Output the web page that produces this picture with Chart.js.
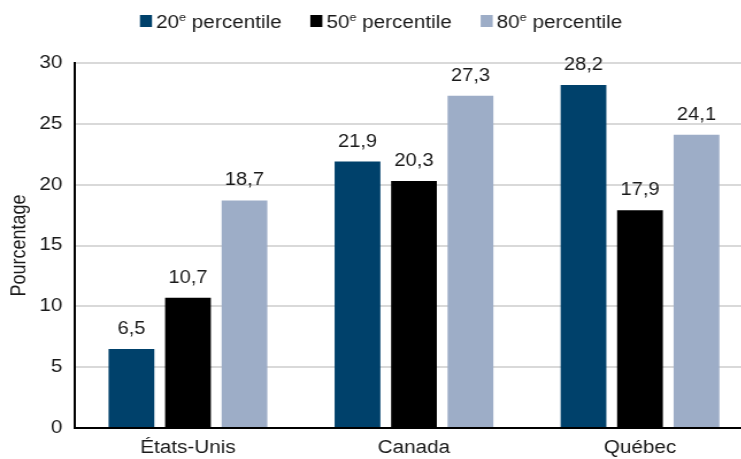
<!DOCTYPE html>
<html>
<head>
<meta charset="utf-8">
<script src="https://cdn.jsdelivr.net/npm/chart.js@4"></script>
<style>
  html, body { margin: 0; padding: 0; background: #fff; overflow: hidden; }
  #wrap { width: 741px; height: 459px; overflow: hidden; }
  /* the figure is drawn narrow and widened, as in the published version */
  #chart { transform: scaleX(1.1496); transform-origin: 0 0; }
</style>
</head>
<body>
<div id="wrap"><canvas id="chart" width="655" height="459"></canvas></div>
<script>
var regions = ['États-Unis', 'Canada', 'Québec'];
var seriesRanks = ['20', '50', '80'];
var p20 = [6.5, 21.9, 28.2];
var p50 = [10.7, 20.3, 17.9];
var p80 = [18.7, 27.3, 24.1];
var colors = ['#00416b', '#000000', '#9dadc7'];

var FONT = "'Liberation Sans', Arial, sans-serif";
var TEXT = '#1a1a1a';

function frNum(v) { return v.toFixed(1).replace('.', ','); }

// value above each bar, French decimal comma
var valueLabels = {
  id: 'valueLabels',
  afterDatasetsDraw: function (chart) {
    var ctx = chart.ctx;
    ctx.save();
    ctx.font = '17.5px ' + FONT;
    ctx.fillStyle = TEXT;
    ctx.textAlign = 'center';
    ctx.textBaseline = 'alphabetic';
    chart.data.datasets.forEach(function (ds, i) {
      chart.getDatasetMeta(i).data.forEach(function (bar, j) {
        ctx.fillText(frNum(ds.data[j]), bar.x, bar.y - 15);
      });
    });
    ctx.restore();
  }
};

// legend row with a raised "e" after the rank
var rankLegend = {
  id: 'rankLegend',
  afterDraw: function (chart) {
    var ctx = chart.ctx;
    var box = 10.5, gap = 3.5, spacing = 25, baseline = 28, shift = 4;
    var big = '18px ' + FONT, small = '11px ' + FONT;
    ctx.save();
    var items = chart.data.datasets.map(function (ds, i) {
      ctx.font = big;
      var wRank = ctx.measureText(seriesRanks[i]).width;
      var wRest = ctx.measureText(' percentile').width;
      ctx.font = small;
      var wSup = ctx.measureText('e').width;
      return { color: ds.backgroundColor, rank: seriesRanks[i], wRank: wRank, wSup: wSup, wRest: wRest,
               w: box + gap + wRank + wSup + wRest };
    });
    var total = items.reduce(function (s, it) { return s + it.w; }, 0) + spacing * (items.length - 1);
    var x = (chart.width - total) / 2 + shift;
    ctx.textBaseline = 'alphabetic';
    ctx.textAlign = 'left';
    items.forEach(function (it) {
      ctx.fillStyle = it.color;
      ctx.fillRect(x, baseline - 13, box, 12);
      var tx = x + box + gap;
      ctx.fillStyle = TEXT;
      ctx.font = big;
      ctx.fillText(it.rank, tx, baseline);
      ctx.font = small;
      ctx.fillText('e', tx + it.wRank, baseline - 7);
      ctx.font = big;
      ctx.fillText(' percentile', tx + it.wRank + it.wSup, baseline);
      x += it.w + spacing;
    });
    ctx.restore();
  }
};

new Chart(document.getElementById('chart'), {
  type: 'bar',
  data: {
    labels: regions,
    datasets: [
      { label: seriesRanks[0] + 'e percentile', data: p20, backgroundColor: colors[0] },
      { label: seriesRanks[1] + 'e percentile', data: p50, backgroundColor: colors[1] },
      { label: seriesRanks[2] + 'e percentile', data: p80, backgroundColor: colors[2] }
    ]
  },
  options: {
    responsive: false,
    animation: false,
    layout: { padding: { top: 63, left: 0, right: 0, bottom: 0 } },
    datasets: { bar: { categoryPercentage: 0.75, barPercentage: 0.81 } },
    plugins: {
      legend: { display: false },
      tooltip: { enabled: false }
    },
    scales: {
      x: {
        afterFit: function (s) { s.height = 31; },
        grid: { display: false, drawTicks: false },
        border: { color: '#000', width: 2 },
        ticks: { color: TEXT, font: { family: FONT, size: 18 }, padding: 9 }
      },
      y: {
        min: 0,
        max: 30,
        afterFit: function (s) { s.width = 65.2; },
        grid: { color: '#d9d9d9', lineWidth: 2, drawTicks: false },
        border: { color: '#000', width: 2 },
        ticks: { stepSize: 5, color: TEXT, font: { family: FONT, size: 18 }, padding: 11 },
        title: { display: true, text: 'Pourcentage', color: TEXT, font: { family: FONT, size: 18 }, padding: { top: 6, bottom: 0 } }
      }
    }
  },
  plugins: [valueLabels, rankLegend]
});
</script>
</body>
</html>
